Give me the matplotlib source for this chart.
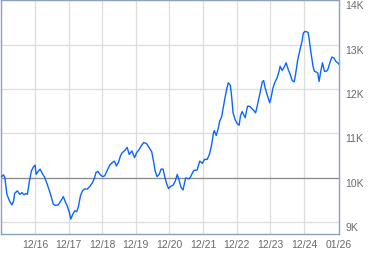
import matplotlib
matplotlib.use("Agg")
import matplotlib.pyplot as plt

# time in decimal years, value of the index
years = [
    2015.90, 2015.98, 2016.02, 2016.08, 2016.16, 2016.23, 2016.28, 2016.31, 2016.39, 2016.47,
    2016.53, 2016.59, 2016.65, 2016.69, 2016.75, 2016.81, 2016.87, 2016.92, 2016.95, 2017.01,
    2017.07, 2017.12, 2017.20, 2017.28, 2017.38, 2017.46, 2017.52, 2017.60, 2017.66, 2017.73,
    2017.76, 2017.82, 2017.88, 2017.94, 2017.98, 2018.04, 2018.10, 2018.16, 2018.21, 2018.27,
    2018.33, 2018.39, 2018.47, 2018.55, 2018.63, 2018.69, 2018.73, 2018.79, 2018.85, 2018.93,
    2018.99, 2019.07, 2019.14, 2019.22, 2019.28, 2019.34, 2019.40, 2019.46, 2019.51, 2019.60,
    2019.66, 2019.72, 2019.80, 2019.88, 2019.94, 2020.02, 2020.09, 2020.15, 2020.23, 2020.31,
    2020.39, 2020.45, 2020.49, 2020.55, 2020.61, 2020.67, 2020.73, 2020.77, 2020.83, 2020.89,
    2020.95, 2021.03, 2021.09, 2021.15, 2021.20, 2021.26, 2021.32, 2021.40, 2021.50, 2021.54,
    2021.64, 2021.74, 2021.82, 2021.90, 2021.96, 2022.04, 2022.11, 2022.17, 2022.22, 2022.25,
    2022.31, 2022.37, 2022.41, 2022.47, 2022.51, 2022.57, 2022.63, 2022.67, 2022.73, 2022.77,
    2022.81, 2022.87, 2022.93, 2022.99, 2023.03, 2023.08, 2023.17, 2023.20, 2023.24, 2023.30,
    2023.42, 2023.48, 2023.54, 2023.62, 2023.68, 2023.72, 2023.76, 2023.82, 2023.90, 2023.94,
    2024.00, 2024.06, 2024.12, 2024.18, 2024.21, 2024.27, 2024.33, 2024.39, 2024.45, 2024.51,
    2024.57, 2024.63, 2024.67, 2024.73, 2024.79, 2024.86, 2024.90, 2024.95, 2025.04, 2025.07,
    2025.13, 2025.19, 2025.23, 2025.29, 2025.33, 2025.37, 2025.41, 2025.47, 2025.53, 2025.59,
    2025.63, 2025.69, 2025.75, 2025.81, 2025.87, 2025.93, 2025.97,
]
values = [
    10010, 10060, 10000, 9620, 9470, 9380, 9470, 9640, 9700, 9620,
    9660, 9610, 9640, 9620, 9920, 10150, 10240, 10280, 10070, 10140,
    10190, 10110, 10010, 9850, 9620, 9400, 9370, 9380, 9440, 9530,
    9570, 9450, 9350, 9210, 9060, 9170, 9250, 9230, 9350, 9590,
    9700, 9740, 9740, 9800, 9890, 10000, 10110, 10140, 10070, 10020,
    10040, 10170, 10280, 10340, 10370, 10260, 10340, 10490, 10560, 10620,
    10680, 10520, 10600, 10450, 10560, 10640, 10730, 10790, 10770, 10680,
    10580, 10340, 10150, 10020, 10070, 10190, 10190, 10040, 9870, 9750,
    9800, 9830, 9920, 10070, 9950, 9780, 9720, 9990, 9970, 10010,
    10160, 10170, 10370, 10320, 10410, 10410, 10530, 10730, 10980, 11060,
    10950, 11110, 11270, 11370, 11540, 11800, 12030, 12140, 12080, 11810,
    11460, 11310, 11220, 11180, 11390, 11490, 11350, 11460, 11610, 11610,
    11520, 11460, 11650, 11940, 12160, 12190, 12040, 11880, 11690, 11800,
    12030, 12160, 12250, 12400, 12510, 12420, 12490, 12590, 12440, 12330,
    12190, 12160, 12330, 12640, 12850, 13070, 13260, 13300, 13280, 13150,
    12810, 12510, 12400, 12380, 12360, 12170, 12360, 12590, 12400, 12400,
    12440, 12590, 12720, 12700, 12620, 12590, 12550,
]

x_ticks = [2016.917 + k for k in range(9)] + [2025.965]
x_labels = ["12/16", "12/17", "12/18", "12/19", "12/20", "12/21",
            "12/22", "12/23", "12/24", "01/26"]
y_ticks = [9000, 10000, 11000, 12000, 13000, 14000]
y_labels = ["9K", "10K", "11K", "12K", "13K", "14K"]
ref_value = 10000

plt.rcParams['font.family'] = ['Liberation Sans', 'DejaVu Sans']

fig = plt.figure(figsize=(3.79, 2.55), dpi=100)
ax = fig.add_axes([0.002, 0.0784, 0.8927, 0.918])

# grid
for xt in x_ticks[:-1]:
    ax.axvline(xt, color='#dddddd', linewidth=0.9, zorder=1)
for yt in y_ticks:
    ax.axhline(yt, color='#dddddd', linewidth=0.9, zorder=1)
ax.axhline(ref_value, color='#8c8c8c', linewidth=0.9, zorder=2)

ax.plot(years, values, color='#0a66ff', linewidth=1.0, zorder=3)

ax.set_xlim(2015.898, 2025.965)
ax.set_ylim(8725, 14010)

ax.set_xticks(x_ticks)
ax.set_xticklabels(x_labels)
ax.set_yticks(y_ticks)
ax.set_yticklabels(y_labels)
ax.yaxis.tick_right()
ax.tick_params(axis='both', length=0, labelsize=7.5, colors='#6a6a6a')
ax.tick_params(axis='x', pad=3.5)
ax.tick_params(axis='y', pad=4.5)
for lab in ax.get_yticklabels():
    lab.set_va('top')

for sp in ax.spines.values():
    sp.set_color('#8ea2c0')
    sp.set_linewidth(1.0)

fig.savefig('out.png', dpi=100)
